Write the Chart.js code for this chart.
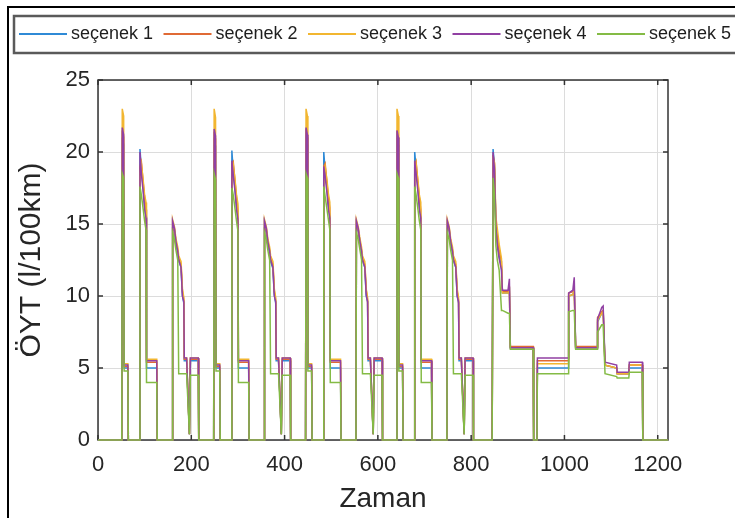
<!DOCTYPE html>
<html>
<head>
<meta charset="utf-8">
<script src="https://cdn.jsdelivr.net/npm/chart.js@4.4.0/dist/chart.umd.min.js"></script>
<style>
  html, body { margin: 0; padding: 0; background: #fff; }
</style>
</head>
<body>
<canvas id="oytChart" width="735" height="518"></canvas>
<script>
  // zaman ekseni (s) - 4 şehir içi çevrim + şehir dışı bölüm
  const zaman = [0,
    51, 52, 55, 56, 64, 65, 89, 90, 93, 97, 100, 103, 104, 126, 127, 159, 160, 164, 167, 171, 173, 178, 181, 184, 185, 190, 196, 198, 215, 216,
    248, 249, 252, 253, 261, 262, 286, 287, 290, 294, 297, 300, 301, 323, 324, 356, 357, 361, 364, 368, 370, 375, 378, 381, 382, 387, 393, 395, 412, 413,
    445, 446, 449, 450, 458, 459, 483, 484, 487, 491, 494, 497, 498, 520, 521, 553, 554, 558, 561, 565, 567, 572, 575, 578, 579, 584, 590, 592, 609, 610,
    640, 641, 644, 645, 653, 654, 678, 679, 682, 686, 689, 692, 693, 715, 716, 748, 749, 753, 756, 760, 762, 767, 770, 773, 774, 779, 785, 787, 804, 805,
    845, 847, 850, 853, 856, 860, 865, 867, 879, 882, 884, 933, 934, 941, 942, 1008, 1009, 1018, 1021, 1024, 1070, 1071, 1080, 1083, 1087, 1112, 1113, 1138, 1139, 1167, 1168, 1222];

  // ÖYT değerleri (l/100km)
  const secenek1 = [0,
    0, 21.0, 20.5, 5.0, 5.0, 0, 0, 20.2, 18.8, 17.5, 16.2, 15.5, 5.0, 5.0, 0, 0, 15.0, 14.5, 13.6, 13.0, 12.5, 12.0, 10.0, 9.5, 5.5, 5.5, 0.4, 5.5, 5.5, 0,
    0, 21.0, 20.4, 5.0, 5.0, 0, 0, 20.1, 18.6, 17.4, 16.2, 15.4, 5.0, 5.0, 0, 0, 15.0, 14.4, 13.6, 13.0, 12.4, 11.9, 10.1, 9.5, 5.5, 5.5, 0.4, 5.5, 5.5, 0,
    0, 21.1, 20.5, 5.0, 5.0, 0, 0, 20.0, 18.7, 17.5, 16.3, 15.5, 5.0, 5.0, 0, 0, 15.0, 14.5, 13.7, 13.0, 12.5, 12.0, 10.0, 9.6, 5.5, 5.5, 0.4, 5.5, 5.5, 0,
    0, 21.0, 20.5, 5.0, 5.0, 0, 0, 20.0, 18.8, 17.5, 16.2, 15.5, 5.0, 5.0, 0, 0, 15.0, 14.5, 13.6, 13.0, 12.5, 12.0, 10.0, 9.5, 5.5, 5.5, 0.4, 5.5, 5.5, 0,
    0, 20.2, 19.0, 15.0, 13.8, 12.8, 12.0, 10.2, 10.2, 10.4, 6.4, 6.4, 0, 0, 5.0, 5.0, 10.0, 10.1, 10.4, 6.4, 6.4, 8.2, 8.8, 8.9, 5.2, 5.0, 4.6, 4.6, 5.0, 5.0, 0, 0];
  const secenek2 = [0,
    0, 21.5, 21.0, 5.1, 5.1, 0, 0, 19.0, 19.3, 17.8, 16.8, 16.0, 5.4, 5.4, 0, 0, 15.1, 14.6, 13.8, 13.2, 12.6, 12.2, 10.3, 9.7, 5.6, 5.6, 0.4, 5.6, 5.6, 0,
    0, 21.4, 20.9, 5.1, 5.1, 0, 0, 19.1, 19.3, 17.9, 16.8, 16.0, 5.4, 5.4, 0, 0, 15.1, 14.6, 13.8, 13.2, 12.6, 12.2, 10.3, 9.7, 5.6, 5.6, 0.4, 5.6, 5.6, 0,
    0, 21.6, 21.0, 5.1, 5.1, 0, 0, 19.0, 19.2, 17.8, 16.8, 16.1, 5.4, 5.4, 0, 0, 15.1, 14.6, 13.9, 13.2, 12.6, 12.2, 10.4, 9.7, 5.6, 5.6, 0.4, 5.6, 5.6, 0,
    0, 21.5, 21.0, 5.1, 5.1, 0, 0, 19.0, 19.3, 17.8, 16.8, 16.0, 5.4, 5.4, 0, 0, 15.1, 14.6, 13.8, 13.2, 12.6, 12.2, 10.3, 9.7, 5.6, 5.6, 0.4, 5.6, 5.6, 0,
    0, 19.8, 19.2, 15.0, 14.2, 13.2, 12.4, 10.3, 10.3, 10.5, 6.5, 6.5, 0, 0, 5.5, 5.5, 10.2, 10.3, 10.4, 6.5, 6.5, 8.5, 8.9, 9.0, 5.2, 5.0, 4.6, 4.6, 5.2, 5.2, 0, 0];
  const secenek3 = [0,
    0, 23.0, 22.5, 5.3, 5.3, 0, 0, 18.5, 19.2, 18.0, 17.0, 16.5, 5.6, 5.6, 0, 0, 15.3, 14.8, 14.0, 13.4, 12.8, 12.4, 10.5, 9.9, 5.7, 5.7, 0.4, 5.7, 5.7, 0,
    0, 23.0, 22.4, 5.3, 5.3, 0, 0, 18.6, 19.1, 18.0, 17.0, 16.4, 5.6, 5.6, 0, 0, 15.3, 14.8, 14.0, 13.4, 12.8, 12.4, 10.5, 9.9, 5.7, 5.7, 0.4, 5.7, 5.7, 0,
    0, 23.0, 22.5, 5.3, 5.3, 0, 0, 18.5, 19.0, 18.0, 17.1, 16.5, 5.6, 5.6, 0, 0, 15.3, 14.8, 14.1, 13.4, 12.8, 12.4, 10.5, 9.9, 5.7, 5.7, 0.4, 5.7, 5.7, 0,
    0, 23.0, 22.5, 5.3, 5.3, 0, 0, 18.5, 19.2, 18.0, 17.0, 16.5, 5.6, 5.6, 0, 0, 15.3, 14.8, 14.0, 13.4, 12.8, 12.4, 10.5, 9.9, 5.7, 5.7, 0.4, 5.7, 5.7, 0,
    0, 19.5, 19.3, 15.5, 14.7, 13.6, 12.6, 10.2, 10.2, 10.4, 6.4, 6.4, 0, 0, 5.3, 5.3, 10.0, 10.1, 10.4, 6.4, 6.4, 8.3, 8.8, 8.9, 5.2, 5.0, 4.6, 4.6, 5.2, 5.2, 0, 0];
  const secenek4 = [0,
    0, 21.7, 21.2, 5.2, 5.2, 0, 0, 20.0, 18.5, 17.2, 16.0, 15.4, 5.5, 5.5, 0, 0, 15.2, 14.7, 13.8, 13.1, 12.5, 12.0, 10.0, 9.6, 5.7, 5.7, 0.4, 5.7, 5.7, 0,
    0, 21.6, 21.1, 5.2, 5.2, 0, 0, 19.4, 18.4, 17.2, 16.0, 15.3, 5.5, 5.5, 0, 0, 15.2, 14.7, 13.8, 13.1, 12.5, 12.0, 10.0, 9.6, 5.7, 5.7, 0.4, 5.7, 5.7, 0,
    0, 21.7, 21.2, 5.2, 5.2, 0, 0, 19.0, 18.3, 17.1, 16.0, 15.4, 5.5, 5.5, 0, 0, 15.2, 14.7, 13.9, 13.1, 12.5, 12.0, 10.1, 9.6, 5.7, 5.7, 0.4, 5.7, 5.7, 0,
    0, 21.5, 21.0, 5.2, 5.2, 0, 0, 19.4, 18.5, 17.2, 16.0, 15.4, 5.5, 5.5, 0, 0, 15.2, 14.7, 13.8, 13.1, 12.5, 12.0, 10.0, 9.6, 5.7, 5.7, 0.4, 5.7, 5.7, 0,
    0, 20.0, 18.8, 14.8, 13.5, 12.6, 11.8, 10.4, 10.4, 11.2, 6.4, 6.4, 0, 0, 5.7, 5.7, 10.2, 10.4, 11.3, 6.4, 6.4, 8.4, 9.2, 9.3, 5.4, 5.2, 4.7, 4.7, 5.4, 5.4, 0, 0];
  const secenek5 = [0,
    0, 18.5, 18.2, 4.8, 4.8, 0, 0, 17.6, 17.0, 16.0, 15.2, 14.6, 4.0, 4.0, 0, 0, 14.4, 13.9, 13.2, 12.5, 4.6, 4.6, 4.6, 4.6, 4.6, 4.6, 0.4, 4.5, 4.5, 0,
    0, 18.5, 18.1, 4.8, 4.8, 0, 0, 17.5, 17.0, 16.0, 15.2, 14.5, 4.0, 4.0, 0, 0, 14.4, 13.9, 13.2, 12.5, 4.6, 4.6, 4.6, 4.6, 4.6, 4.6, 0.4, 4.5, 4.5, 0,
    0, 18.5, 18.2, 4.8, 4.8, 0, 0, 17.6, 16.9, 16.0, 15.3, 14.6, 4.0, 4.0, 0, 0, 14.4, 13.9, 13.3, 12.5, 4.6, 4.6, 4.6, 4.6, 4.6, 4.6, 0.4, 4.5, 4.5, 0,
    0, 18.5, 18.2, 4.8, 4.8, 0, 0, 17.6, 17.0, 16.0, 15.2, 14.6, 4.0, 4.0, 0, 0, 14.4, 13.9, 13.2, 12.5, 4.6, 4.6, 4.6, 4.6, 4.6, 4.6, 0.4, 4.5, 4.5, 0,
    0, 18.2, 17.0, 13.5, 12.5, 11.8, 9.0, 9.0, 8.8, 8.8, 6.3, 6.3, 0, 0, 4.6, 4.6, 8.9, 9.0, 9.0, 6.3, 6.3, 7.5, 8.0, 8.0, 4.6, 4.4, 4.3, 4.3, 4.7, 4.7, 0, 0];

  const seriAdlari = ['seçenek 1', 'seçenek 2', 'seçenek 3', 'seçenek 4', 'seçenek 5'];
  const seriler = [secenek1, secenek2, secenek3, secenek4, secenek5];
  const renkler = ['#2f8ad6', '#e06a35', '#f2b630', '#9140a3', '#84bb45'];
  const xTikler = [0, 200, 400, 600, 800, 1000, 1200];
  const yTikler = [0, 5, 10, 15, 20, 25];

  const datasets = seriler.map((seri, i) => ({
    label: seriAdlari[i],
    data: seri.map((v, k) => ({ x: zaman[k], y: v })),
    borderColor: renkler[i],
    backgroundColor: renkler[i],
    borderWidth: 1.5,
    pointRadius: 0,
    tension: 0,
    fill: false,
    clip: 3,
    order: 4 - i // son seri en üstte (MATLAB gibi)
  }));

  // eksen kutusu + içe dönük tikler (çizgilerin altında), lejant en sonda
  const cerceve = {
    id: 'cerceve',
    beforeDatasetsDraw(chart) {
      const { ctx, chartArea: a } = chart;
      const xs = chart.scales.x, ys = chart.scales.y;
      ctx.save();
      ctx.strokeStyle = '#333';
      ctx.lineWidth = 1.5;
      ctx.strokeRect(a.left, a.top, a.right - a.left, a.bottom - a.top);
      ctx.beginPath();
      xTikler.forEach(v => {
        const px = xs.getPixelForValue(v);
        ctx.moveTo(px, a.bottom); ctx.lineTo(px, a.bottom - 5);
        ctx.moveTo(px, a.top); ctx.lineTo(px, a.top + 5);
      });
      yTikler.forEach(v => {
        const py = ys.getPixelForValue(v);
        ctx.moveTo(a.left, py); ctx.lineTo(a.left + 5, py);
        ctx.moveTo(a.right, py); ctx.lineTo(a.right - 5, py);
      });
      ctx.stroke();
      ctx.restore();
    },
    afterDraw(chart) {
      const { ctx } = chart;
      ctx.save();

      // dış siyah çerçeve
      ctx.strokeStyle = '#000';
      ctx.lineWidth = 2;
      ctx.strokeRect(8, 7, 800, 600);

      // lejant kutusu
      ctx.strokeStyle = '#5a5a5a';
      ctx.lineWidth = 2.5;
      ctx.strokeRect(14, 16, 800, 37);
      ctx.font = '18px "Liberation Sans", Arial, sans-serif';
      ctx.textBaseline = 'middle';
      ctx.textAlign = 'left';
      chart.data.datasets.forEach((ds, i) => {
        const x0 = 19 + i * 144.5;
        ctx.strokeStyle = ds.borderColor;
        ctx.lineWidth = 2;
        ctx.beginPath();
        ctx.moveTo(x0, 34);
        ctx.lineTo(x0 + 48, 34);
        ctx.stroke();
        ctx.fillStyle = '#1e1e1e';
        ctx.fillText(ds.label, x0 + 52, 34);
      });
      ctx.restore();
    }
  };

  const ctx = document.getElementById('oytChart').getContext('2d');
  new Chart(ctx, {
    type: 'line',
    data: { datasets: datasets },
    options: {
      responsive: false,
      animation: false,
      layout: { padding: { top: 80, right: 67, bottom: 0, left: 0 } },
      plugins: {
        legend: { display: false },
        tooltip: { enabled: false }
      },
      scales: {
        x: {
          type: 'linear',
          min: 0,
          max: 1222,
          afterBuildTicks: s => { s.ticks = xTikler.map(v => ({ value: v })); },
          afterFit: s => { s.height = 78; },
          ticks: {
            color: '#262626',
            padding: 12,
            maxRotation: 0,
            callback: v => String(v),
            font: { family: '"Liberation Sans", Arial, sans-serif', size: 22 }
          },
          grid: { color: '#dcdcdc', lineWidth: 1, drawTicks: false },
          border: { display: false },
          title: {
            display: true,
            text: 'Zaman',
            color: '#262626',
            font: { family: '"Liberation Sans", Arial, sans-serif', size: 28 },
            padding: { top: 0, bottom: 2 }
          }
        },
        y: {
          min: 0,
          max: 25,
          afterBuildTicks: s => { s.ticks = yTikler.map(v => ({ value: v })); },
          afterFit: s => { s.width = 98; },
          ticks: {
            color: '#262626',
            padding: 8,
            callback: v => String(v),
            font: { family: '"Liberation Sans", Arial, sans-serif', size: 22 }
          },
          grid: { color: '#dcdcdc', lineWidth: 1, drawTicks: false },
          border: { display: false },
          title: {
            display: true,
            text: 'ÖYT (l/100km)',
            color: '#262626',
            font: { family: '"Liberation Sans", Arial, sans-serif', size: 30 },
            padding: { top: 14, bottom: 0 }
          }
        }
      }
    },
    plugins: [cerceve]
  });
</script>
</body>
</html>
